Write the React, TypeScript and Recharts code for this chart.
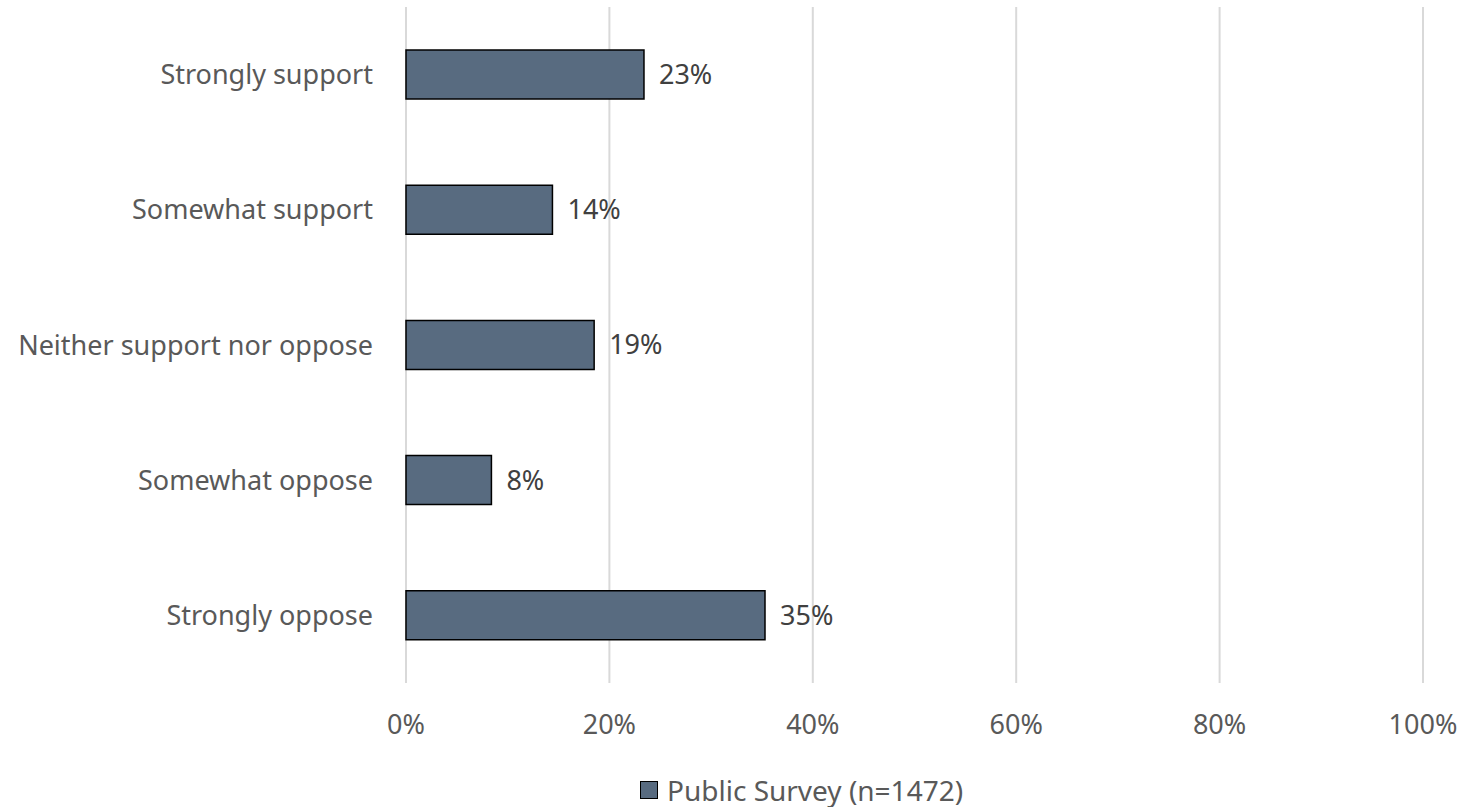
import React from 'react';
import {
  BarChart,
  Bar,
  XAxis,
  YAxis,
  CartesianGrid,
  Legend,
  LabelList,
} from 'recharts';

// Survey answers, top to bottom as drawn
const categories = [
  'Strongly support',
  'Somewhat support',
  'Neither support nor oppose',
  'Somewhat oppose',
  'Strongly oppose',
];
const shares = [23.4, 14.4, 18.5, 8.4, 35.3];
const xTicks = [0, 20, 40, 60, 80, 100];
const seriesName = 'Public Survey (n=1472)';

const data = categories.map((c, i) => ({ category: c, share: shares[i] }));

const FONT = '"Noto Sans", sans-serif';
const BAR_FILL = '#586b80';

function SurveyLegend() {
  // 64px tall box; content sits near the bottom like the Excel legend
  return (
    <div
      style={{
        display: 'flex',
        alignItems: 'center',
        boxSizing: 'border-box',
        height: 64,
        paddingTop: 30,
        paddingLeft: 640,
        fontFamily: FONT,
        fontSize: 28,
        color: '#595959',
      }}
    >
      <span
        style={{
          width: 18,
          height: 18,
          background: BAR_FILL,
          border: '1.5px solid #000',
          marginRight: 9,
          boxSizing: 'border-box',
          flexShrink: 0,
        }}
      />
      {seriesName}
    </div>
  );
}

export default function App() {
  return (
    <div style={{ position: 'absolute', left: 0, top: 0, background: '#fff' }}>
      <BarChart
        width={1467}
        height={807}
        data={data}
        layout="vertical"
        margin={{ top: 7, right: 44, left: 0, bottom: 0 }}
        barSize={49}
      >
        <CartesianGrid horizontal={false} stroke="#d9d9d9" strokeWidth={2} />
        <XAxis
          type="number"
          domain={[0, 100]}
          ticks={xTicks}
          tickFormatter={(v) => `${v}%`}
          axisLine={false}
          tickLine={false}
          tickSize={0}
          tickMargin={32}
          height={60}
          tick={{ fontFamily: FONT, fontSize: 27, fill: '#595959' }}
        />
        <YAxis
          type="category"
          dataKey="category"
          width={406}
          axisLine={false}
          tickLine={false}
          tickSize={0}
          tickMargin={33}
          tick={{ fontFamily: FONT, fontSize: 27, fill: '#595959' }}
        />
        <Legend verticalAlign="bottom" content={SurveyLegend} wrapperStyle={{ left: 0, width: 1467 }} />
        <Bar
          dataKey="share"
          name={seriesName}
          fill={BAR_FILL}
          stroke="#000"
          strokeWidth={1.5}
          isAnimationActive={false}
        >
          <LabelList
            dataKey="share"
            position="right"
            offset={15}
            formatter={(v: number) => `${Math.round(v)}%`}
            style={{ fontFamily: FONT, fontSize: 27, fill: '#404040' }}
          />
        </Bar>
      </BarChart>
    </div>
  );
}
